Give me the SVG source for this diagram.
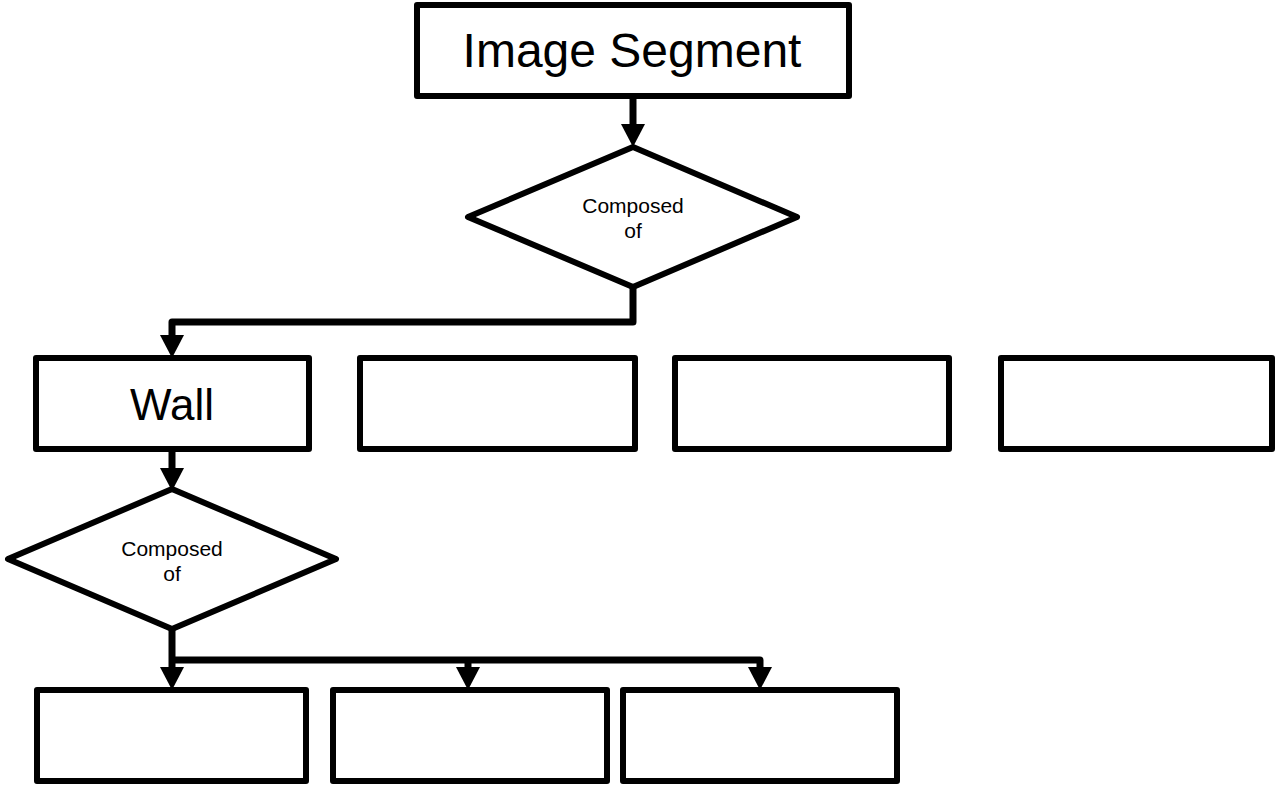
<svg xmlns="http://www.w3.org/2000/svg" width="1276" height="785" viewBox="0 0 1276 785">
<style>
.box{fill:#fff;stroke:#000;stroke-width:6;stroke-linejoin:round}
.dia{fill:#fff;stroke:#000;stroke-width:6;stroke-linejoin:round}
.con{fill:none;stroke:#000;stroke-width:7;stroke-linejoin:round}
.t{font-family:"Liberation Sans",Arial,sans-serif;fill:#000;text-anchor:middle}
</style>
<defs>
<marker id="ah" markerUnits="userSpaceOnUse" markerWidth="24" markerHeight="24" refX="0" refY="11.5" orient="auto" viewBox="0 0 22 23">
<path d="M0,0 L22,11.5 L0,23 z" fill="#000"/>
</marker>
</defs>
<rect width="1276" height="785" fill="#fff"/>
<g id="connectors">
<path class="con" d="M633,97 L633,124" marker-end="url(#ah)"/>
<path class="con" d="M633,287 L633,322 L172,322 L172,335" marker-end="url(#ah)"/>
<path class="con" d="M172,451 L172,468" marker-end="url(#ah)"/>
<path class="con" d="M172,630 L172,667" marker-end="url(#ah)"/>
<path class="con" d="M172,660 L760,660 L760,667" marker-end="url(#ah)"/>
<path class="con" d="M468,660 L468,667" marker-end="url(#ah)"/>
</g>
<g id="node-image-segment">
<rect class="box" x="417" y="5" width="432" height="91"/>
<text class="t" x="632" y="67" font-size="48">Image Segment</text>
</g>
<g id="node-decision-1">
<polygon class="dia" points="633,147 797,217 633,287 468,217"/>
<text class="t" x="633" y="213" font-size="21">Composed</text>
<text class="t" x="633" y="238" font-size="21">of</text>
</g>
<g id="node-wall">
<rect class="box" x="36" y="358" width="273" height="91"/>
<text class="t" x="172" y="420" font-size="44">Wall</text>
</g>
<g id="node-box-2">
<rect class="box" x="360" y="358" width="275" height="91"/>
</g>
<g id="node-box-3">
<rect class="box" x="675" y="358" width="274" height="91"/>
</g>
<g id="node-box-4">
<rect class="box" x="1001" y="358" width="271" height="91"/>
</g>
<g id="node-decision-2">
<polygon class="dia" points="172,489 336,559 172,629 8,559"/>
<text class="t" x="172" y="556" font-size="21">Composed</text>
<text class="t" x="172" y="581" font-size="21">of</text>
</g>
<g id="node-box-5">
<rect class="box" x="37" y="690" width="269" height="91"/>
</g>
<g id="node-box-6">
<rect class="box" x="333" y="690" width="274" height="91"/>
</g>
<g id="node-box-7">
<rect class="box" x="623" y="690" width="274" height="91"/>
</g>
</svg>
